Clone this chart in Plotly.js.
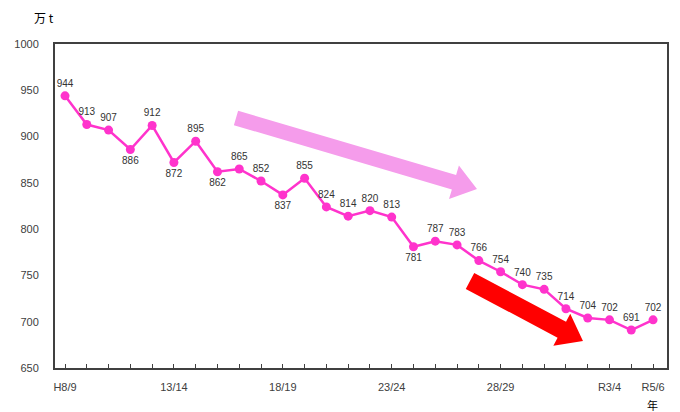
<!DOCTYPE html>
<html>
<head>
<meta charset="utf-8">
<script src="https://cdn.plot.ly/plotly-3.0.1.min.js"></script>
<style>html,body{margin:0;padding:0;background:#fff;}#chart{width:680px;height:412px;}</style>
</head>
<body>
<div id="chart"></div>
<script>
// Fiscal years (H8/9 .. R5/6)
var years = ["H8/9","H9/10","H10/11","H11/12","H12/13","H13/14","H14/15","H15/16","H16/17","H17/18",
  "H18/19","H19/20","H20/21","H21/22","H22/23","H23/24","H24/25","H25/26","H26/27","H27/28",
  "H28/29","H29/30","H30/R1","R1/2","R2/3","R3/4","R4/5","R5/6"];
// Values (万 t)
var values = [944,913,907,886,912,872,895,862,865,852,837,855,824,814,820,813,781,787,783,766,754,740,735,714,704,702,691,702];
// Tick labels shown on the x axis
var tickLabels = {"H8/9":"H8/9","H13/14":"13/14","H18/19":"18/19","H23/24":"23/24","H28/29":"28/29","R3/4":"R3/4","R5/6":"R5/6"};
// Label positions (below for local dips)
var below = [3,5,7,10,16];

var textPos = values.map(function(v,i){ return below.indexOf(i) >= 0 ? "bottom center" : "top center"; });
var tickText = years.map(function(y){ return tickLabels[y] || ""; });

var W = 680, H = 412, M = {l:55, r:13, t:44, b:44};
var PW = W - M.l - M.r, PH = H - M.t - M.b;
function px(x){ return (x - M.l) / PW; }
function py(y){ return 1 - (y - M.t) / PH; }
function arrowPath(x0,y0,x1,y1,sw,hw,hl){
  var dx = x1-x0, dy = y1-y0, L = Math.sqrt(dx*dx+dy*dy);
  var ux = dx/L, uy = dy/L, nx = -uy, ny = ux;
  var bx = x1-ux*hl, by = y1-uy*hl;
  var pts = [
    [x0+nx*sw/2, y0+ny*sw/2],
    [bx+nx*sw/2, by+ny*sw/2],
    [bx+nx*hw/2, by+ny*hw/2],
    [x1, y1],
    [bx-nx*hw/2, by-ny*hw/2],
    [bx-nx*sw/2, by-ny*sw/2],
    [x0-nx*sw/2, y0-ny*sw/2]
  ];
  return "M " + pts.map(function(p){ return px(p[0]).toFixed(4) + "," + py(p[1]).toFixed(4); }).join(" L ") + " Z";
}

var trace = {
  x: years, y: values, type: "scatter", mode: "lines+markers+text",
  line: {color: "#ff33cc", width: 2.5},
  marker: {color: "#ff33cc", size: 9},
  text: values.map(String), textposition: textPos,
  textfont: {family: "Liberation Sans, Arial, sans-serif", size: 10, color: "#333"},
  cliponaxis: false, hoverinfo: "skip"
};

var layout = {
  width: W, height: H, margin: M,
  paper_bgcolor: "#fff", plot_bgcolor: "#fff", showlegend: false,
  font: {family: "Liberation Sans, Arial, sans-serif", size: 11, color: "#404040"},
  xaxis: {
    type: "category", range: [-0.46, 27.64],
    tickmode: "array", tickvals: years, ticktext: tickText,
    ticks: "inside", ticklen: 4, tickcolor: "#404040", tickwidth: 1,
    showline: true, linecolor: "#404040", linewidth: 2, mirror: true,
    showgrid: false, zeroline: false, ticklabelstandoff: 8,
    tickfont: {size: 11, color: "#404040"}
  },
  yaxis: {
    range: [650, 1000], dtick: 50, tick0: 650,
    ticks: "", showline: true, linecolor: "#404040", linewidth: 2, mirror: true,
    showgrid: false, zeroline: false, ticklabelstandoff: 12,
    tickfont: {size: 11, color: "#404040"}
  },
  shapes: [
    {type: "path", xref: "paper", yref: "paper", layer: "below",
     path: arrowPath(236,118,477,189,15,35,24), fillcolor: "#f59ceb", line: {width: 0}},
    {type: "path", xref: "paper", yref: "paper", layer: "above",
     path: arrowPath(470,281,583,341,18,36,24), fillcolor: "#ff0000", line: {width: 0}}
  ],
  annotations: [
    {text: "万 t", xref: "paper", yref: "paper", x: px(32), y: py(17), showarrow: false,
     xanchor: "left", yanchor: "middle", font: {family: "Noto Sans CJK JP, sans-serif", size: 12, color: "#000"}},
    {text: "年", xref: "paper", yref: "paper", x: px(652), y: py(405), showarrow: false,
     xanchor: "center", yanchor: "middle", font: {family: "Noto Sans CJK JP, sans-serif", size: 11, color: "#000"}}
  ]
};

Plotly.newPlot("chart", [trace], layout, {displayModeBar: false, staticPlot: true});
</script>
</body>
</html>
